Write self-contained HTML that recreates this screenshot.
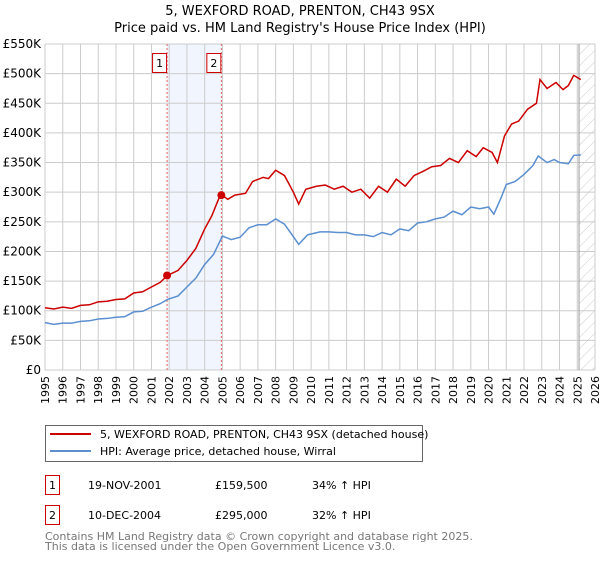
<!DOCTYPE html>
<html><head><meta charset="utf-8"><style>
body{margin:0;background:#fff;font-family:"DejaVu Sans","Liberation Sans",sans-serif;}
svg text{font-family:"DejaVu Sans","Liberation Sans",sans-serif;}
</style></head><body>
<svg id="chart" width="600" height="560" xmlns="http://www.w3.org/2000/svg">
<defs><pattern id="hatch" width="8" height="8" patternUnits="userSpaceOnUse" patternTransform="rotate(45)"><line x1="0" y1="0" x2="0" y2="8" stroke="#ccc" stroke-width="1"/></pattern></defs>
<text x="300" y="15" text-anchor="middle" font-size="13">5, WEXFORD ROAD, PRENTON, CH43 9SX</text>
<text x="300" y="32" text-anchor="middle" font-size="13">Price paid vs. HM Land Registry's House Price Index (HPI)</text>
<g id="plot"></g>
<g>
<rect x="45.5" y="425.5" width="377" height="36" fill="#fff" stroke="#666"/>
<line x1="50" y1="434" x2="91" y2="434" stroke="#cc0000" stroke-width="2"/>
<text x="100" y="438" font-size="11">5, WEXFORD ROAD, PRENTON, CH43 9SX (detached house)</text>
<line x1="50" y1="451" x2="91" y2="451" stroke="#5b8fd0" stroke-width="2"/>
<text x="100" y="455" font-size="11">HPI: Average price, detached house, Wirral</text>
</g>
<g font-size="11">
<rect x="45.5" y="475.5" width="14" height="19" fill="#fff" stroke="#cc0000"/><text x="52.5" y="489" text-anchor="middle">1</text>
<text x="88" y="489">19-NOV-2001</text><text x="215" y="489">£159,500</text><text x="312" y="489">34% ↑ HPI</text>
<rect x="45.5" y="505.5" width="14" height="19" fill="#fff" stroke="#cc0000"/><text x="52.5" y="519" text-anchor="middle">2</text>
<text x="88" y="519">10-DEC-2004</text><text x="215" y="519">£295,000</text><text x="312" y="519">32% ↑ HPI</text>
</g>
<text x="45" y="540" font-size="11" fill="#777">Contains HM Land Registry data © Crown copyright and database right 2025.</text>
<text x="45" y="550" font-size="11" fill="#777">This data is licensed under the Open Government Licence v3.0.</text>
</svg>
<script>
const yearTicks=[1995,1996,1997,1998,1999,2000,2001,2002,2003,2004,2005,2006,2007,2008,2009,2010,2011,2012,2013,2014,2015,2016,2017,2018,2019,2020,2021,2022,2023,2024,2025,2026];
const valueTicks=[0,50000,100000,150000,200000,250000,300000,350000,400000,450000,500000,550000];
const valueLabels=["£0","£50K","£100K","£150K","£200K","£250K","£300K","£350K","£400K","£450K","£500K","£550K"];
const hpiYears=[1995,1995.5,1996,1996.5,1997,1997.5,1998,1998.5,1999,1999.5,2000,2000.5,2001,2001.5,2001.9,2002.5,2003,2003.5,2004,2004.5,2005,2005.5,2006,2006.5,2007,2007.5,2008,2008.5,2009,2009.3,2009.8,2010.5,2011,2011.5,2012,2012.5,2013,2013.5,2014,2014.5,2015,2015.5,2016,2016.5,2017,2017.5,2018,2018.5,2019,2019.5,2020,2020.3,2020.7,2021,2021.5,2022,2022.5,2022.8,2023.3,2023.7,2024,2024.5,2024.8,2025.2];
const hpiValues=[80,77,79,79,82,83,86,87,89,90,98,99,106,112,119,125,140,155,178,195,226,220,224,240,245,245,255,246,225,212,228,233,233,232,232,228,228,225,232,228,238,235,248,250,255,258,268,262,275,272,275,263,290,313,318,330,345,361,350,355,350,348,362,363];
const priceYears=[1995,1995.5,1996,1996.5,1997,1997.5,1998,1998.5,1999,1999.5,2000,2000.5,2001,2001.5,2001.9,2002.5,2003,2003.5,2004,2004.4,2004.9,2005.3,2005.7,2006.3,2006.7,2007.3,2007.6,2008,2008.5,2009,2009.3,2009.7,2010.3,2010.8,2011.3,2011.8,2012.3,2012.8,2013.3,2013.8,2014.3,2014.8,2015.3,2015.8,2016.3,2016.8,2017.3,2017.8,2018.3,2018.8,2019.3,2019.7,2020.2,2020.5,2020.9,2021.3,2021.7,2022.2,2022.7,2022.9,2023.3,2023.8,2024.2,2024.5,2024.8,2025.2];
const priceValues=[105,103,106,104,109,110,115,116,119,120,130,132,140,148,159.5,168,185,205,238,260,297,288,295,298,318,325,323,337,328,300,280,305,310,312,305,310,300,305,290,310,300,322,310,328,335,343,345,357,350,370,360,375,367,350,395,415,420,440,450,490,475,485,473,480,497,490];
const saleYears=[2001.88,2004.94];
const saleValues=[159.5,295];
const saleLabels=["1","2"];
const X0=45,X1=595,Y0=370,Y1=44;
const xs=y=>X0+(y-1995)/31*(X1-X0);
const ys=v=>Y0-v/550000*(Y0-Y1);
const NS="http://www.w3.org/2000/svg";
const g=document.getElementById('plot');
function mk(t,a,p){const e=document.createElementNS(NS,t);for(const k in a)e.setAttribute(k,a[k]);(p||g).appendChild(e);return e;}
let e;
e=mk('rect',{x:xs(saleYears[0]),y:Y1,width:xs(saleYears[1])-xs(saleYears[0]),height:Y0-Y1,fill:'#eef3fc',opacity:0.8});


e=mk('rect',{x:xs(2025.1),y:Y1,width:X1-xs(2025.1),height:Y0-Y1,fill:'url(#hatch)'});


yearTicks.forEach(y=>{
 e=mk('line',{x1:xs(y),x2:xs(y),y1:Y1,y2:Y0,stroke:'#ccc'});
 
 
 e=mk('text',{x:0,y:0,transform:`translate(${xs(y)+4},${Y0+6}) rotate(-90)`,'text-anchor':'end','font-size':11});
 e.textContent=y;
 
 
});
valueTicks.forEach((v,i)=>{
 e=mk('line',{x1:X0,x2:X1,y1:ys(v),y2:ys(v),stroke:'#ccc'});
 
 
 e=mk('text',{x:X0-4,y:ys(v)+4,'text-anchor':'end','font-size':12});
 e.textContent=valueLabels[i];
 
 
});
e=mk('line',{x1:xs(2025.1),x2:xs(2025.1),y1:Y1,y2:Y0,stroke:'#999'});


saleYears.forEach((y,i)=>{
 e=mk('line',{x1:xs(y),x2:xs(y),y1:Y1,y2:Y0,stroke:'#e06060','stroke-dasharray':'2,2'});
 
 
 e=mk('rect',{x:xs(y)-14.5,y:53.5,width:14,height:19,fill:'#fff',stroke:'#cc0000'});
 
 
 e=mk('text',{x:xs(y)-7.5,y:67,'text-anchor':'middle','font-size':11});
 e.textContent=saleLabels[i];
 
 
});
e=mk('polyline',{points:hpiYears.map((y,i)=>xs(y)+','+ys(hpiValues[i]*1000)).join(' '),fill:'none',stroke:'#5b8fd0','stroke-width':1.5});


e=mk('polyline',{points:priceYears.map((y,i)=>xs(y)+','+ys(priceValues[i]*1000)).join(' '),fill:'none',stroke:'#cc0000','stroke-width':1.5});


saleYears.forEach((y,i)=>{
 e=mk('circle',{cx:xs(y),cy:ys(saleValues[i]*1000),r:4,fill:'#cc0000'});
 
 
});
</script>
</body></html>
